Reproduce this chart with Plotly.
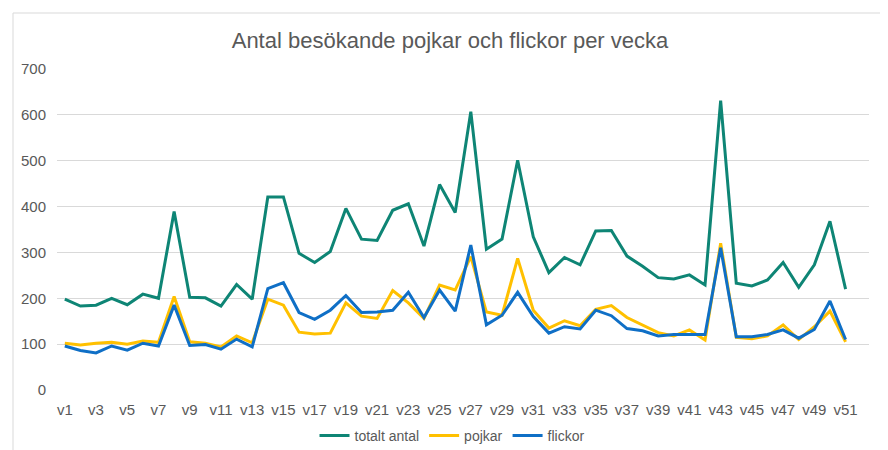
import plotly.graph_objects as go

weeks = [f"v{i}" for i in range(1, 53)]
tick_labels = [f"v{i}" for i in range(1, 52, 2)]

totalt = [198, 183, 185, 200, 186, 209, 200, 389, 202, 201, 183, 230, 198, 421, 421,
          298, 278, 302, 396, 329, 326, 392, 406, 314, 448, 387, 607, 307, 329, 501,
          334, 256, 289, 273, 347, 348, 292, 270, 245, 242, 251, 229, 631, 233, 227,
          240, 278, 224, 273, 368, 220]
pojkar = [102, 98, 102, 104, 100, 107, 104, 204, 105, 102, 94, 118, 103, 198, 185,
          126, 122, 124, 190, 161, 156, 217, 190, 156, 229, 218, 291, 170, 163, 287,
          174, 135, 151, 140, 176, 184, 158, 142, 125, 118, 131, 109, 320, 115, 112,
          118, 142, 110, 138, 172, 105]
flickor = [96, 86, 81, 96, 87, 102, 96, 185, 97, 99, 89, 111, 94, 221, 234,
           169, 154, 174, 206, 169, 170, 174, 213, 158, 218, 172, 316, 142, 163, 213,
           160, 124, 138, 133, 174, 162, 134, 129, 118, 121, 121, 121, 310, 116, 116,
           121, 131, 113, 132, 194, 110]

series = [("totalt antal", totalt, "#0E8575"),
          ("pojkar", pojkar, "#FFC000"),
          ("flickor", flickor, "#0F6FC6")]

fig = go.Figure()
for name, vals, col in series:
    fig.add_trace(go.Scatter(x=weeks[:len(vals)], y=vals, name=name, mode="lines",
                             line=dict(color=col, width=3)))

# page body has an 8px default margin; figure coordinates are screen - 8
W, H = 872, 442
L, R, T, B = 49, 11, 61, 60
pw, ph = W - L - R, H - T - B

def px_to_paper_x(p):
    return (p - L) / pw

def px_to_paper_y(p):
    return (H - B - p) / ph

fig.add_shape(type="rect", xref="paper", yref="paper",
              x0=px_to_paper_x(5), x1=px_to_paper_x(920),
              y0=px_to_paper_y(480), y1=px_to_paper_y(5),
              line=dict(color="#D9D9D9", width=1), layer="below")

fig.update_layout(
    template="none",
    width=W, height=H,
    margin=dict(l=L, r=R, t=T, b=B, autoexpand=False),
    paper_bgcolor="white", plot_bgcolor="white",
    font=dict(family="Liberation Sans, Arial, sans-serif", color="#595959", size=14),
    title=dict(text="Antal besökande pojkar och flickor per vecka",
               x=442 / W, xanchor="center", y=1 - 32 / H, yanchor="middle",
               font=dict(size=22, color="#595959")),
    xaxis=dict(type="category", categoryorder="array", categoryarray=weeks,
               range=[-0.5, 51.5], tickvals=tick_labels, ticktext=tick_labels,
               showgrid=False, showline=False, ticks="", zeroline=False,
               automargin=False,
               ticklabelstandoff=9, tickfont=dict(size=15, color="#595959")),
    yaxis=dict(range=[0, 700], dtick=100, showgrid=True, gridcolor="#D9D9D9",
               gridwidth=1, zeroline=False, showline=False, ticks="",
               automargin=False,
               ticklabelstandoff=10, tickfont=dict(size=15, color="#595959")),
    legend=dict(orientation="h", x=px_to_paper_x(444), xanchor="center",
                y=px_to_paper_y(412), yanchor="top",
                font=dict(size=14, color="#595959"), itemwidth=30,
                tracegroupgap=0, borderwidth=0,
                bgcolor="rgba(0,0,0,0)"),
    showlegend=True,
)

fig.write_html("out.html")
